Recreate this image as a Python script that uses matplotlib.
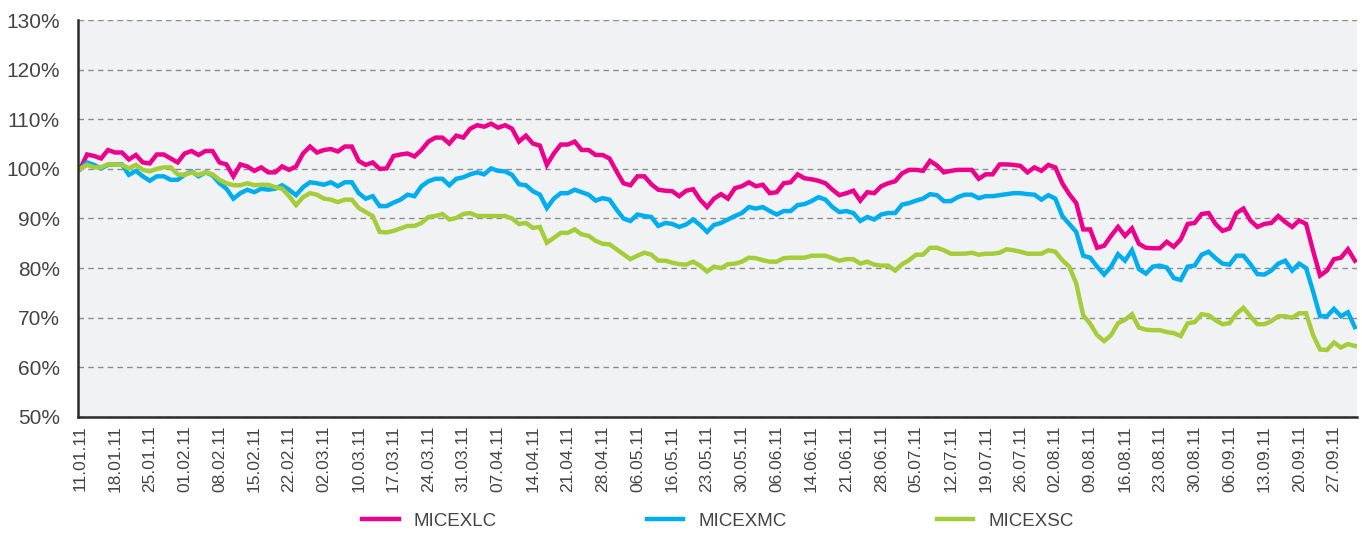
import matplotlib
matplotlib.use('Agg')
from matplotlib import pyplot as plt
from matplotlib.ticker import FuncFormatter

# Индексы, % от уровня 11.01.11 (по торговым дням)
micex_lc = [100, 102.9, 102.6, 102.1, 103.8, 103.3, 103.3, 101.9, 102.8, 101.3,
            101.1, 102.9, 102.9, 102.1, 101.3, 103.1, 103.6, 102.8, 103.6, 103.6,
            101.3, 100.9, 98.5, 100.9, 100.5, 99.6, 100.3, 99.3, 99.3, 100.5,
            99.8, 100.5, 103.1, 104.5, 103.3, 103.8, 104.0, 103.5, 104.5, 104.5,
            101.6, 100.8, 101.3, 100.0, 100.1, 102.6,
            102.9, 103.1, 102.5, 103.8, 105.5, 106.3, 106.3, 105.1, 106.7, 106.3,
            108.1, 108.8, 108.5, 109.1, 108.3, 108.8, 108.1, 105.5, 106.7, 105.1,
            104.7, 100.8, 103.1, 104.9, 104.9, 105.5, 103.8, 103.8, 102.8, 102.8,
            102.1, 99.5, 97.1, 96.7, 98.5, 98.5, 96.9, 95.8, 95.6, 95.5,
            94.5, 95.6, 95.9, 93.8, 92.3, 94.0,
            94.9, 94.0, 96.1, 96.5, 97.3, 96.5, 96.8, 95.1, 95.3, 97.1,
            97.3, 98.9, 98.1, 97.9, 97.6, 97.1, 95.8, 94.7, 95.1, 95.6,
            93.6, 95.3, 95.1, 96.5, 97.1, 97.5, 99.1, 99.8, 99.8, 99.6,
            101.6, 100.7, 99.3, 99.6, 99.8, 99.8, 99.8, 98.0, 98.9, 98.9,
            100.9, 100.9, 100.8,
            100.6, 99.3, 100.3, 99.6, 100.8, 100.3, 97.1, 94.9, 93.1, 87.8,
            87.8, 84.1, 84.5, 86.5, 88.3, 86.5, 88.0, 84.9, 84.1, 84.0,
            84.0, 85.3, 84.3, 85.8, 88.9, 89.1, 90.9, 91.1, 88.9, 87.5,
            88.0, 91.1, 92.0, 89.6, 88.3, 88.9, 89.1, 90.5, 89.3, 88.3,
            89.6, 88.9, 83.5, 78.5, 79.5, 81.8, 82.1, 83.8, 81.5]

micex_mc = [100, 101.3, 100.8, 100.1, 100.8, 100.9, 100.9, 98.8, 99.6, 98.5,
            97.6, 98.5, 98.5, 97.8, 97.8, 98.8, 99.5, 98.5, 99.3, 98.7,
            97.1, 96.0, 94.0, 95.1, 95.8, 95.3, 96.0, 95.8, 96.0, 96.7,
            95.8, 94.7, 96.3, 97.3, 97.1, 96.8, 97.3, 96.5, 97.3, 97.3,
            95.1, 94.0, 94.5, 92.5, 92.5, 93.2,
            93.8, 94.8, 94.5, 96.5, 97.5, 98.0, 98.0, 96.7, 98.0, 98.3,
            98.9, 99.3, 98.9, 100.1, 99.6, 99.5, 98.8, 96.9, 96.7, 95.5,
            94.8, 92.1, 94.0, 95.1, 95.1, 95.8, 95.3, 94.8, 93.6, 94.1,
            93.8, 91.8, 90.0, 89.5, 90.8, 90.5, 90.3, 88.5, 89.1, 88.9,
            88.3, 88.8, 89.8, 88.7, 87.3, 88.7,
            89.1, 89.8, 90.5, 91.1, 92.3, 92.0, 92.3, 91.5, 90.8, 91.5,
            91.5, 92.7, 92.9, 93.5, 94.3, 93.8, 92.3, 91.3, 91.5, 91.1,
            89.5, 90.3, 89.8, 90.8, 91.1, 91.1, 92.8, 93.1, 93.6, 94.0,
            94.9, 94.7, 93.5, 93.5, 94.3, 94.8, 94.8, 94.1, 94.5, 94.5,
            94.7, 94.9, 95.1,
            95.1, 94.9, 94.8, 93.8, 94.7, 94.0, 90.5, 88.9, 87.3, 82.5,
            82.1, 80.3, 78.7, 80.3, 82.8, 81.5, 83.6, 79.8, 78.9, 80.3,
            80.5, 80.1, 78.0, 77.6, 80.3, 80.5, 82.7, 83.3, 82.0, 80.9,
            80.7, 82.5, 82.5, 80.8, 78.8, 78.7, 79.5, 80.9, 81.5, 79.5,
            80.9, 80.0, 75.3, 70.3, 70.3, 71.8, 70.3, 71.1, 68.1]

micex_sc = [100, 100.8, 100.3, 100.3, 100.9, 100.9, 100.8, 100.1, 100.8, 99.8,
            99.5, 100.0, 100.3, 100.3, 98.9, 98.8, 99.3, 98.8, 99.3, 98.9,
            97.8, 97.1, 96.7, 96.7, 97.1, 96.7, 96.8, 96.8, 96.3, 96.0,
            94.5, 92.7, 94.3, 95.1, 94.8, 94.0, 93.8, 93.3, 93.8, 93.8,
            92.1, 91.3, 90.5, 87.3, 87.2, 87.5,
            88.0, 88.5, 88.5, 89.1, 90.3, 90.5, 90.9, 89.8, 90.1, 90.9,
            91.1, 90.5, 90.5, 90.5, 90.5, 90.5, 90.0, 88.9, 89.1, 88.1,
            88.3, 85.1, 86.1, 87.1, 87.1, 87.8, 86.8, 86.5, 85.5, 84.9,
            84.8, 83.8, 82.8, 81.8, 82.5, 83.1, 82.7, 81.5, 81.5, 81.1,
            80.8, 80.7, 81.3, 80.5, 79.3, 80.3,
            80.0, 80.8, 80.9, 81.3, 82.1, 82.0, 81.6, 81.3, 81.3, 82.0,
            82.1, 82.1, 82.1, 82.5, 82.5, 82.5, 82.0, 81.5, 81.8, 81.8,
            80.9, 81.3, 80.7, 80.5, 80.5, 79.5, 80.8, 81.6, 82.7, 82.7,
            84.1, 84.1, 83.6, 82.9, 82.9, 82.9, 83.1, 82.7, 82.9, 82.9,
            83.1, 83.8, 83.6,
            83.3, 82.9, 82.9, 82.9, 83.6, 83.3, 81.6, 80.3, 76.9, 70.5,
            68.8, 66.5, 65.3, 66.5, 68.9, 69.6, 70.7, 68.0, 67.6, 67.5,
            67.5, 67.1, 66.9, 66.3, 68.9, 69.1, 70.7, 70.5, 69.5, 68.7,
            68.9, 70.8, 72.0, 70.3, 68.7, 68.7, 69.3, 70.3, 70.3, 70.0,
            70.9, 70.9, 66.5, 63.6, 63.5, 65.0, 64.0, 64.7, 64.3]

# подписи оси X - каждый 5-й торговый день
date_labels = ['11.01.11', '18.01.11', '25.01.11', '01.02.11', '08.02.11', '15.02.11',
               '22.02.11', '02.03.11', '10.03.11', '17.03.11', '24.03.11', '31.03.11',
               '07.04.11', '14.04.11', '21.04.11', '28.04.11', '06.05.11', '16.05.11',
               '23.05.11', '30.05.11', '06.06.11', '14.06.11', '21.06.11', '28.06.11',
               '05.07.11', '12.07.11', '19.07.11', '26.07.11', '02.08.11', '09.08.11',
               '16.08.11', '23.08.11', '30.08.11', '06.09.11', '13.09.11', '20.09.11',
               '27.09.11']

plt.rcParams['font.family'] = ['Liberation Sans', 'DejaVu Sans']
txt = '#444444'

fig = plt.figure(figsize=(13.62, 5.35), dpi=100)
ax = fig.add_axes([0.0573, 0.2206, 0.9390, 0.742])
ax.set_facecolor('#f1f2f4')

x = list(range(len(micex_lc)))
ax.plot(x, micex_lc, color='#ec008c', lw=3.2, label='MICEXLC', solid_joinstyle='miter')
ax.plot(x, micex_mc, color='#00aeef', lw=3.2, label='MICEXMC', solid_joinstyle='miter')
ax.plot(x, micex_sc, color='#a5cd39', lw=3.2, label='MICEXSC', solid_joinstyle='miter')

ax.set_ylim(50, 130)
ax.set_yticks(range(50, 131, 10))
ax.yaxis.set_major_formatter(FuncFormatter(lambda v, p: f'{v:.0f}%'))
ax.set_xlim(-0.3, len(micex_lc) - 0.7)
ax.set_xticks(range(0, 5 * len(date_labels), 5))
ax.set_xticklabels(date_labels, rotation=90)

ax.grid(axis='y', color='#8c8c8c', linestyle=(0, (4, 3)), lw=1)
ax.set_axisbelow(True)
for s in ['top', 'right']:
    ax.spines[s].set_visible(False)
for s in ['left', 'bottom']:
    ax.spines[s].set_color('#2b2b2b')
    ax.spines[s].set_linewidth(1.8)
ax.tick_params(axis='y', length=0, pad=13, labelsize=15, labelcolor=txt)
ax.tick_params(axis='x', length=0, pad=6, labelsize=12.5, labelcolor=txt)

fig.legend(loc='center', bbox_to_anchor=(0.527, 0.026), ncol=3, frameon=False,
           fontsize=13.5, handlelength=1.95, handletextpad=0.8, columnspacing=8.0,
           labelcolor=txt)

fig.savefig('out.png', dpi=100)
